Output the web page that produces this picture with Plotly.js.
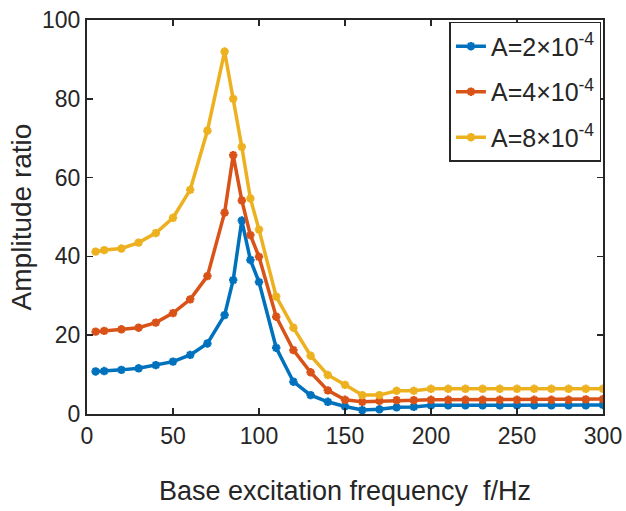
<!DOCTYPE html>
<html>
<head>
<meta charset="utf-8">
<script src="https://cdn.plot.ly/plotly-3.0.1.min.js"></script>
<style>html,body{margin:0;padding:0;background:#fff;}#chart{width:626px;height:511px;}</style>
</head>
<body>
<div id="chart"></div>
<script>
const freq = [5,10,20,30,40,50,60,70,80,85,90,95,100,110,120,130,140,150,160,170,180,190,200,210,220,230,240,250,260,270,280,290,300];
const ampA2 = [10.8,10.9,11.2,11.6,12.4,13.3,15.0,17.9,25.1,34.0,49.1,39.1,33.5,16.8,8.2,4.8,3.1,1.9,1.0,1.2,1.7,1.8,2.2,2.2,2.2,2.2,2.2,2.2,2.2,2.2,2.2,2.2,2.3];
const ampA4 = [20.9,21.1,21.5,21.9,23.2,25.6,29.1,35.0,51.1,65.7,54.2,45.4,39.9,24.7,16.2,10.6,6.0,3.6,3.1,3.3,3.5,3.5,3.6,3.6,3.6,3.6,3.6,3.6,3.6,3.6,3.6,3.7,3.8];
const ampA8 = [41.2,41.6,42.0,43.5,45.9,49.8,56.9,71.9,92.0,80.0,67.8,54.7,46.8,29.8,21.9,14.8,9.9,7.4,4.8,4.8,5.9,5.9,6.4,6.4,6.4,6.4,6.4,6.4,6.4,6.4,6.4,6.4,6.4];
const seriesNames = ['A=2×10<sup>-4</sup>','A=4×10<sup>-4</sup>','A=8×10<sup>-4</sup>'];
const colors = ['#0072BD','#D95319','#EDB120'];
const xTicks = [0,50,100,150,200,250,300];
const yTicks = [0,20,40,60,80,100];

const ys = [ampA2, ampA4, ampA8];
const traces = ys.map((y, i) => ({
  x: freq, y: y, type: 'scatter', mode: 'lines+markers', name: seriesNames[i],
  legendgroup: 'g' + i,
  line: {color: colors[i], width: 3.5},
  marker: {symbol: 'asterisk-open', size: 7, color: colors[i], line: {color: colors[i], width: 2.5}}
}));

const font = {family: 'Liberation Sans, Arial, sans-serif', color: '#262626'};
const layout = {
  width: 626, height: 511,
  margin: {l: 87, r: 23, t: 20, b: 97},
  paper_bgcolor: '#fff', plot_bgcolor: '#fff',
  font: Object.assign({size: 23}, font),
  showlegend: true,
  legend: {x: 0.997, xanchor: 'right', y: 0.995, yanchor: 'top', bordercolor: '#262626', borderwidth: 1.5,
           bgcolor: '#fff', font: Object.assign({size: 25}, font), tracegroupgap: 10, itemwidth: 30},
  xaxis: {
    range: [0, 300], tickvals: xTicks, ticktext: xTicks.map(String),
    ticks: 'inside', ticklen: 6, tickwidth: 1.5, tickcolor: '#262626',
    showline: true, linecolor: '#262626', linewidth: 2, mirror: 'ticks',
    showgrid: false, zeroline: false,
    tickfont: Object.assign({size: 23}, font),
    title: {text: 'Base excitation frequency  f/Hz', font: Object.assign({size: 27}, font), standoff: 34}
  },
  yaxis: {
    range: [0, 100], tickvals: yTicks, ticktext: yTicks.map(String),
    ticks: 'inside', ticklen: 6, tickwidth: 1.5, tickcolor: '#262626',
    showline: true, linecolor: '#262626', linewidth: 2, mirror: 'ticks',
    showgrid: false, zeroline: false,
    tickfont: Object.assign({size: 23}, font),
    title: {text: 'Amplitude ratio', font: Object.assign({size: 28}, font), standoff: 2}
  }
};
Plotly.newPlot('chart', traces, layout, {staticPlot: true, displayModeBar: false});
</script>
</body>
</html>
